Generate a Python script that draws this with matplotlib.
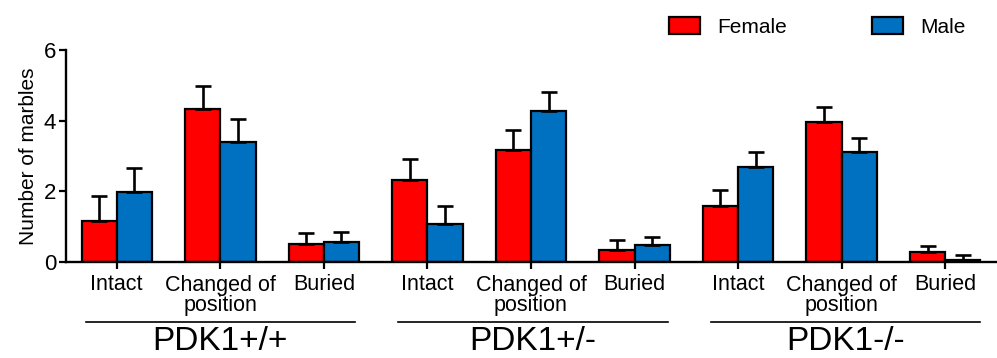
import numpy as np
import matplotlib
matplotlib.use("Agg")
import matplotlib.pyplot as plt

plt.rcParams['font.family'] = ['Liberation Sans', 'DejaVu Sans']

groups = ['PDK1+/+', 'PDK1+/-', 'PDK1-/-']
categories = ['Intact', 'Changed of\nposition', 'Buried']

# means and upper SEM, order: group x category
female_mean = [1.16, 4.32, 0.50, 2.32, 3.17, 0.35, 1.59, 3.97, 0.27]
female_err = [0.72, 0.66, 0.31, 0.60, 0.56, 0.27, 0.44, 0.43, 0.19]
male_mean = [1.99, 3.41, 0.57, 1.08, 4.28, 0.49, 2.68, 3.10, 0.07]
male_err = [0.68, 0.63, 0.27, 0.51, 0.52, 0.23, 0.42, 0.42, 0.14]

red = '#ff0000'
blue = '#0070c0'

fig = plt.figure(figsize=(9.97, 3.58), dpi=100)
ax = fig.add_axes([66 / 997, 1 - 262 / 358, 931 / 997, 212 / 358])

x = np.arange(len(female_mean))
w = 0.34
err_kw = dict(ecolor='black', elinewidth=1.9, capsize=5.5, capthick=1.9)

ax.bar(x - w / 2, female_mean, w, color=red, edgecolor='black', linewidth=1.6,
       yerr=[np.zeros(len(x)), female_err], error_kw=err_kw, label='Female', zorder=2)
ax.bar(x + w / 2, male_mean, w, color=blue, edgecolor='black', linewidth=1.6,
       yerr=[np.zeros(len(x)), male_err], error_kw=err_kw, label='Male', zorder=2)

ax.set_xlim(-0.49, 8.5)
ax.set_ylim(0, 6)
ax.set_yticks([0, 2, 4, 6])
ax.tick_params(axis='y', labelsize=16, width=1.6, length=5, pad=2)
ax.set_ylabel('Number of marbles', fontsize=15, labelpad=4)

ax.set_xticks(x)
ax.set_xticklabels(categories * len(groups), fontsize=15.5, linespacing=1.0)
ax.tick_params(axis='x', width=1.6, length=5, pad=4)

for side in ['top', 'right']:
    ax.spines[side].set_visible(False)
for side in ['left', 'bottom']:
    ax.spines[side].set_linewidth(1.7)

# group underlines and labels
for i, g in enumerate(groups):
    c = 3 * i + 1 + 0.02 * i
    ax.plot([c - 1.3, c + 1.3], [-0.285, -0.285], color='black', lw=1.2,
            transform=ax.get_xaxis_transform(), clip_on=False)
    ax.text(c, -0.30, g, fontsize=24, ha='center', va='top',
            transform=ax.get_xaxis_transform())

fig.legend(loc='upper right', bbox_to_anchor=(0.987, 1.005), ncol=2, frameon=False,
           fontsize=15, handlelength=1.5, handleheight=0.9, handletextpad=0.8,
           columnspacing=4.1)

fig.savefig('out.png', dpi=100)
